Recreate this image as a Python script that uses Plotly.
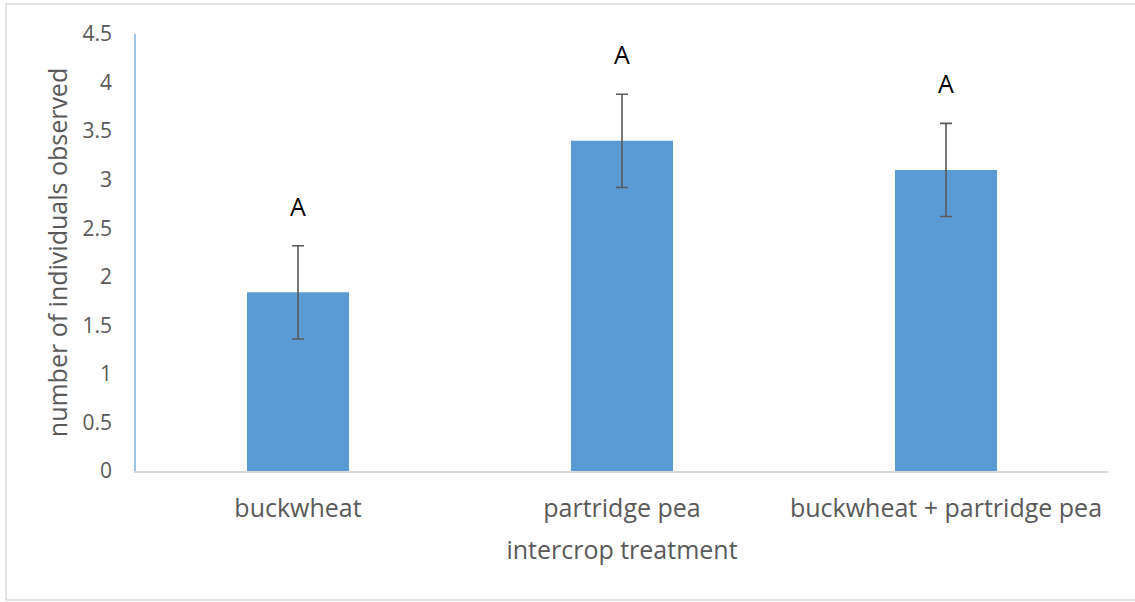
import plotly.graph_objects as go

# Mean number of individuals per intercrop treatment, with standard errors
treatments = ["buckwheat", "partridge pea", "buckwheat + partridge pea"]
mean_counts = [1.84, 3.40, 3.10]
std_errors = [0.48, 0.48, 0.48]
letters = ["A", "A", "A"]

y_ticks = [0, 0.5, 1, 1.5, 2, 2.5, 3, 3.5, 4, 4.5]
y_tick_text = ["0", "0.5", "1", "1.5", "2", "2.5", "3", "3.5", "4", "4.5"]

FONT = "Open Sans"
GREY = "#595959"

fig = go.Figure()
fig.add_trace(go.Bar(
    x=treatments,
    y=mean_counts,
    marker=dict(color="#5B9BD5", line=dict(width=0)),
    error_y=dict(type="data", array=std_errors, visible=True,
                 color=GREY, thickness=1.6, width=6),
    showlegend=False,
    hoverinfo="skip",
))

# significance letters above each error bar
for t, m, s, lab in zip(treatments, mean_counts, std_errors, letters):
    fig.add_annotation(x=t, y=m + s, text=lab, showarrow=False,
                       yanchor="middle", yshift=40,
                       font=dict(family=FONT, size=25, color="#000000"))

# outer chart border
fig.add_shape(type="rect", xref="paper", yref="paper",
              x0=-0.1337, x1=1.06, y0=-0.295, y1=1.0686,
              line=dict(color="#D9D9D9", width=1.5), layer="below")

fig.update_layout(
    width=1135, height=602,
    margin=dict(l=136, r=27, t=34, b=131),
    paper_bgcolor="white", plot_bgcolor="white",
    bargap=0.685,
    font=dict(family=FONT, color=GREY),
    xaxis=dict(
        title=dict(text="intercrop treatment", font=dict(size=25, color=GREY), standoff=19),
        tickfont=dict(size=25, color=GREY),
        ticklabelstandoff=14,
        showline=True, linecolor="#D9D9D9", linewidth=1.5,
        showgrid=False, ticks="", ticklen=0,
    ),
    yaxis=dict(
        title=dict(text="number of individuals observed", font=dict(size=25, color=GREY), standoff=8),
        range=[0, 4.5], tickvals=y_ticks, ticktext=y_tick_text,
        tickfont=dict(size=21, color=GREY),
        ticklabelstandoff=18,
        showline=True, linecolor="#9DC3E6", linewidth=1.5,
        showgrid=False, zeroline=False, ticks="", ticklen=0,
    ),
)

fig.write_html("out.html")
